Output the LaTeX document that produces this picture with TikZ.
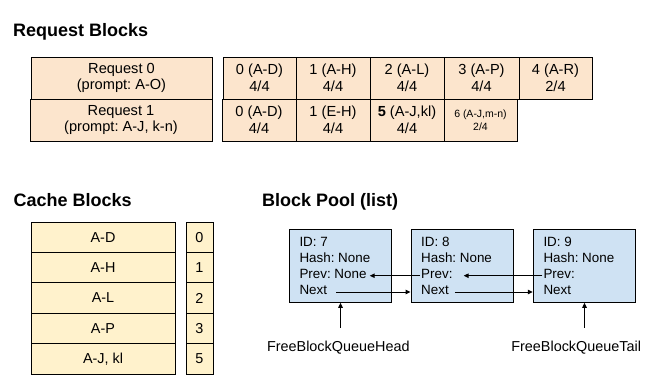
\documentclass[tikz,border=0pt]{standalone}
\usepackage{fontspec}
\setmainfont{Liberation Sans}
\usetikzlibrary{arrows.meta,calc}
\definecolor{reqfill}{HTML}{FCE5CD}
\definecolor{cachefill}{HTML}{FFF2CC}
\definecolor{poolfill}{HTML}{CFE2F3}
\frenchspacing
\begin{document}
\begin{tikzpicture}[x=1pt,y=-1pt,
  title/.style={anchor=base west, inner sep=0pt, font=\fontsize{18}{20}\selectfont\bfseries},
  reqbox/.style={draw=black, line width=1pt, fill=reqfill, inner sep=0pt, align=center,
    minimum height=42pt, font=\fontsize{14.6}{16.5}\selectfont},
  smallcell/.style={font=\fontsize{10.5}{12.6}\selectfont},
  cachebox/.style={draw=black, line width=1pt, fill=cachefill, inner sep=0pt,
    minimum height=30.4pt, font=\fontsize{14.4}{16}\selectfont},
  poolbox/.style={draw=black, line width=1pt, fill=poolfill, inner sep=0pt,
    minimum width=102.4pt, minimum height=73pt},
  pooltxt/.style={anchor=base west, inner sep=0pt, font=\fontsize{13.4}{16}\selectfont},
  lbl/.style={anchor=base, inner sep=0pt, font=\fontsize{14.4}{16}\selectfont},
  arr/.style={line width=1pt, -{Triangle[length=5pt,width=4.5pt]}}
]
\useasboundingbox (0,0) rectangle (672,384);

% titles
\node[title] (t1) at (13,36) {Request Blocks};
\node[title] (t2) at (13.5,206.7) {Cache Blocks};
\node[title] (t3) at (262,206.7) {Block Pool (list)};

% request blocks
\node[reqbox, minimum width=181pt] (r0) at (121.5,78) {Request 0\\(prompt: A-O)};
\node[reqbox, minimum width=182pt] (r1) at (121,120) {Request 1\\(prompt: A-J, k-n)};

\node[reqbox, minimum width=73pt] (c00) at (259.5,78) {0 (A-D)\\4/4};
\node[reqbox, minimum width=74pt] (c01) at (333,78) {1 (A-H)\\4/4};
\node[reqbox, minimum width=74pt] (c02) at (407,78) {2 (A-L)\\4/4};
\node[reqbox, minimum width=75pt] (c03) at (481.5,78) {3 (A-P)\\4/4};
\node[reqbox, minimum width=73pt] (c04) at (555.5,78) {4 (A-R)\\2/4};

\node[reqbox, minimum width=74pt] (c10) at (259,120) {0 (A-D)\\4/4};
\node[reqbox, minimum width=74pt] (c11) at (333,120) {1 (E-H)\\4/4};
\node[reqbox, minimum width=74pt] (c12) at (407,120) {{\bfseries 5} (A-J,kl)\\4/4};
\node[reqbox, smallcell, minimum width=73pt] (c13) at (480.5,120) {6 (A-J,m-n)\\2/4};

% cache blocks
\node[cachebox, minimum width=144pt] (k0) at (103,237.2) {A-D};
\node[cachebox, minimum width=144pt] (k1) at (103,267.6) {A-H};
\node[cachebox, minimum width=144pt] (k2) at (103,298.0) {A-L};
\node[cachebox, minimum width=144pt] (k3) at (103,328.4) {A-P};
\node[cachebox, minimum width=144pt] (k4) at (103,358.8) {A-J, kl};

\node[cachebox, minimum width=27pt] (i0) at (199.5,237.2) {0};
\node[cachebox, minimum width=27pt] (i1) at (199.5,267.6) {1};
\node[cachebox, minimum width=27pt] (i2) at (199.5,298.0) {2};
\node[cachebox, minimum width=27pt] (i3) at (199.5,328.4) {3};
\node[cachebox, minimum width=27pt] (i4) at (199.5,358.8) {5};

% block pool
\node[poolbox] (b7) at (340.5,265.8) {};
\node[poolbox] (b8) at (462.2,265.8) {};
\node[poolbox] (b9) at (584.5,265.8) {};

\node[pooltxt] (id7) at (299.3,246.7) {ID: 7};
\node[pooltxt] (h7) at (299.3,262.7) {Hash: None};
\node[pooltxt] (p7) at (299.3,278.7) {Prev: None};
\node[pooltxt] (n7) at (299.3,294.5) {Next};

\node[pooltxt] (id8) at (421,246.7) {ID: 8};
\node[pooltxt] (h8) at (421,262.7) {Hash: None};
\node[pooltxt] (p8) at (421,278.7) {Prev:};
\node[pooltxt] (n8) at (421,294.5) {Next};

\node[pooltxt] (id9) at (543.3,246.7) {ID: 9};
\node[pooltxt] (h9) at (543.3,262.7) {Hash: None};
\node[pooltxt] (p9) at (543.3,278.7) {Prev:};
\node[pooltxt] (n9) at (543.3,294.5) {Next};

% prev arrows
\draw[arr] ([xshift=-1pt,yshift=3pt]p8.base west) -- ([xshift=3pt,yshift=3pt]p7.base east);
\draw[arr] ([xshift=-1pt,yshift=3pt]p9.base west) -- ([xshift=11pt,yshift=3pt]p8.base east);
% next arrows
\draw[arr] ([xshift=9pt,yshift=2.5pt]n7.base east) -- ($(n7.base east -| b8.west)+(0,-2.5)$);
\draw[arr] ([xshift=6pt,yshift=2.5pt]n8.base east) -- ($(n8.base east -| b9.west)+(0,-2.5)$);

% head / tail
\node[lbl] (hl) at (338.3,351.7) {FreeBlockQueueHead};
\node[lbl] (tl) at (576.2,351.7) {FreeBlockQueueTail};
\coordinate (hs) at ($(b7.south)+(0,25)$);
\coordinate (ts) at ($(b9.south)+(0,25)$);
\draw[arr] (hs) -- (b7.south);
\draw[arr] (ts) -- (b9.south);
\end{tikzpicture}
\end{document}
